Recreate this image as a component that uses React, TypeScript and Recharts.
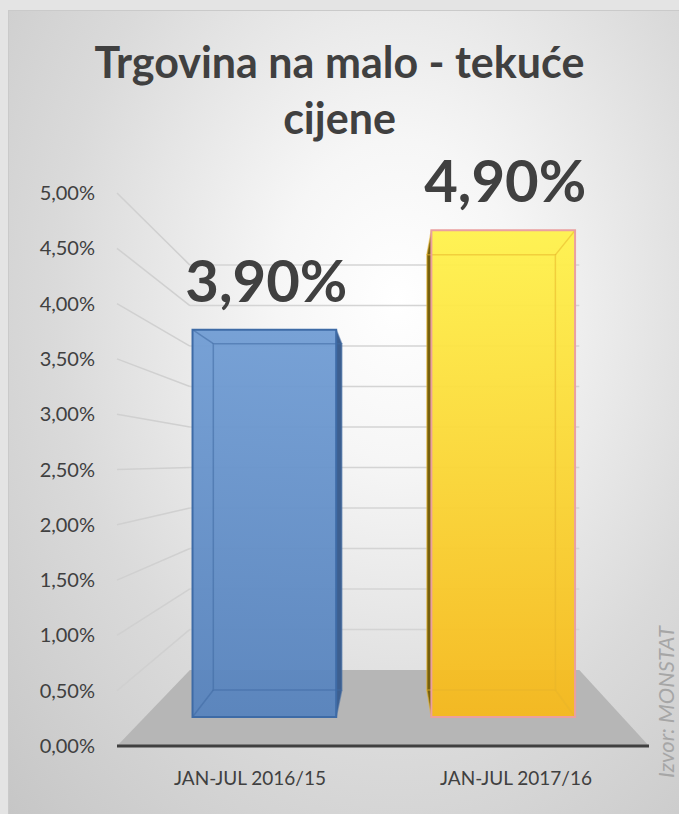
import { ComposedChart, Bar, XAxis, YAxis, CartesianGrid, LabelList, Cell } from "recharts";

const categories = ["JAN-JUL 2016/15", "JAN-JUL 2017/16"];
const values = [3.9, 4.9];
const yTicks = [0, 0.5, 1, 1.5, 2, 2.5, 3, 3.5, 4, 4.5, 5];
const barFills = ["blue", "yellow"];

const data = categories.map((name, i) => ({ name, value: values[i] }));

// fake 3D: everything is projected toward a vanishing point behind the plot
const VP = { x: 389, y: 462 };
const K_WALL = 0.732;
const K_FRONT = 0.898;
const K_BACK = 0.803;
const PLOT_BOTTOM = 746;

const proj = (x: number, y: number, k: number): [number, number] => [
  VP.x + (x - VP.x) * k,
  VP.y + (y - VP.y) * k,
];

const fmt = (v: number) => v.toFixed(2).replace(".", ",") + "%";
const FONT = "Lato, 'Open Sans', sans-serif";

const styles: Record<string, { top: string; bottom: string; edge: string; inner: string; side: string }> = {
  blue: { top: "#719dd4", bottom: "#5783bd", edge: "#3e6ba6", inner: "#3f6aa3", side: "#3d5f8f" },
  yellow: { top: "#fff24c", bottom: "#f6b91c", edge: "#eaa0a0", inner: "#e8b52a", side: "#75600f" },
};

function GridLine(props: any) {
  const { x1, y1, x2 } = props;
  const [bx1, by] = proj(x1, y1, K_WALL);
  const [bx2] = proj(x2, y1, K_WALL);
  if (Math.abs(y1 - PLOT_BOTTOM) < 2) {
    const pts = [[x1, y1], [x2, y1], [bx2, by], [bx1, by]].map((p) => p.join(",")).join(" ");
    return <polygon key={props.key} points={pts} fill="#b6b6b6" />;
  }
  return (
    <g key={props.key}>
      <line x1={x1} y1={y1} x2={bx1} y2={by} stroke="#d0d0d0" strokeWidth={1.5} />
      <line x1={bx1} y1={by} x2={bx2} y2={by} stroke="#d4d4d4" strokeWidth={1.5} />
    </g>
  );
}

function Box3D(props: any) {
  const { x, y, width, height, colorKey } = props;
  const s = styles[colorKey];
  const x0 = x, x1 = x + width, y0 = y, y1 = y + height;
  const f = [proj(x0, y0, K_FRONT), proj(x1, y0, K_FRONT), proj(x1, y1, K_FRONT), proj(x0, y1, K_FRONT)];
  const b = [proj(x0, y0, K_BACK), proj(x1, y0, K_BACK), proj(x1, y1, K_BACK), proj(x0, y1, K_BACK)];
  const pts = (a: [number, number][]) => a.map((p) => p.join(",")).join(" ");
  // side face toward the vanishing point
  const leftOfVp = (x0 + x1) / 2 < VP.x;
  const side = leftOfVp ? [f[1], b[1], b[2], f[2]] : [f[0], b[0], b[3], f[3]];
  const gid = "grad-" + colorKey;
  return (
    <g>
      <defs>
        <linearGradient id={gid} x1="0" y1="0" x2="0" y2="1">
          <stop offset="0%" stopColor={s.top} />
          <stop offset="100%" stopColor={s.bottom} />
        </linearGradient>
      </defs>
      <polygon points={pts(side)} fill={s.side} />
      <polygon points={pts(f)} fill={`url(#${gid})`} fillOpacity={0.95} />
      <polygon points={pts(b)} fill="none" stroke={s.inner} strokeOpacity={0.55} strokeWidth={1.5} />
      {f.map((p, i) => (
        <line key={i} x1={p[0]} y1={p[1]} x2={b[i][0]} y2={b[i][1]} stroke={s.inner} strokeOpacity={0.55} strokeWidth={1.5} />
      ))}
      <polygon points={pts(f)} fill="none" stroke={s.edge} strokeWidth={2} />
    </g>
  );
}

function BarValue(props: any) {
  const { x, y, width, value } = props;
  const [cx, top] = proj(x + width / 2, y, K_FRONT);
  return (
    <text x={cx + 2} y={top - 28} textAnchor="middle" fontFamily={FONT} fontWeight={700} fontSize={58} fill="#404040">
      {fmt(value)}
    </text>
  );
}

function YTick(props: any) {
  const { y, payload } = props;
  return (
    <text x={95} y={y + 7} textAnchor="end" fontFamily={FONT} fontSize={20} fill="#404040">
      {fmt(payload.value)}
    </text>
  );
}

function XTick(props: any) {
  const { x, y, payload } = props;
  return (
    <text x={x} y={y + 31} textAnchor="middle" fontFamily={FONT} fontSize={19} fill="#404040">
      {payload.value}
    </text>
  );
}

export default function App() {
  return (
    <div style={{ position: "absolute", left: 0, top: 0, width: 679, height: 814, background: "#e4e4e4", overflow: "hidden" }}>
      <style>{"html, body { margin: 0; overflow: hidden; }"}</style>
      <div
        style={{
          position: "absolute",
          left: 8,
          top: 10,
          width: 671,
          height: 804,
          borderLeft: "1px solid #cacaca",
          borderTop: "1px solid #cacaca",
          boxSizing: "border-box",
          background: "radial-gradient(ellipse at 58% 36%, #ffffff 0%, #f6f6f6 22%, #dadada 62%, #c6c6c6 100%)",
        }}
      />
      <div
        style={{
          position: "absolute",
          left: 0,
          width: 679,
          top: 34,
          textAlign: "center",
          fontFamily: FONT,
          fontWeight: 700,
          fontSize: 43,
          lineHeight: "56px",
          color: "#404040",
        }}
      >
        Trgovina na malo - tekuće
        <br />
        cijene
      </div>
      <svg width={679} height={814} style={{ position: "absolute", left: 0, top: 0 }}>
        <text
          transform="translate(674, 702) rotate(-90)"
          textAnchor="middle"
          fontFamily={FONT}
          fontStyle="italic"
          fontSize={22}
          fill="#a6a6a6"
        >
          Izvor: MONSTAT
        </text>
      </svg>
      <div style={{ position: "absolute", left: 0, top: 0 }}>
        <ComposedChart width={679} height={814} data={data} margin={{ top: 193, right: 30, bottom: 0, left: 0 }} barCategoryGap="20%">
          <CartesianGrid vertical={false} horizontal={(p: any) => <GridLine {...p} />} />
          <XAxis dataKey="name" height={68} axisLine={{ stroke: "#404040", strokeWidth: 3 }} tickLine={false} tick={<XTick />} />
          <YAxis width={117} domain={[0, 5]} ticks={yTicks} axisLine={false} tickLine={false} tick={<YTick />} />
          <Bar dataKey="value" isAnimationActive={false} shape={(p: any) => <Box3D {...p} colorKey={barFills[p.index]} />}>
            {data.map((d, i) => (
              <Cell key={d.name} fill={barFills[i]} />
            ))}
            <LabelList dataKey="value" content={<BarValue />} />
          </Bar>
        </ComposedChart>
      </div>
    </div>
  );
}
